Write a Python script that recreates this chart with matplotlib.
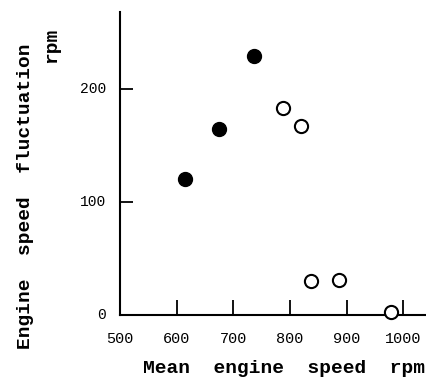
import matplotlib
matplotlib.use('agg')
import matplotlib.pyplot as plt

# values
filled_x = [614, 675, 737]
filled_y = [120, 165, 229]
open_x = [788, 819, 838, 887, 979]
open_y = [183, 167, 30, 31, 3]

x_ticks = [600, 700, 800, 900, 1000]
x_labels = ['500', '600', '700', '800', '900', '1000']
y_ticks = [100, 200]
y_labels = ['0', '100', '200']

mono = 'Liberation Mono'

fig = plt.figure(figsize=(4.27, 3.81), dpi=100)
ax = fig.add_axes([0.281, 0.173, 0.719, 0.795])

ax.scatter(filled_x, filled_y, s=100, c='black', zorder=3)
ax.scatter(open_x, open_y, s=90, facecolors='white', edgecolors='black',
           linewidths=1.5, zorder=3, clip_on=False)

ax.set_xlim(500, 1042)
ax.set_ylim(0, 268)

for s in ['top', 'right']:
    ax.spines[s].set_visible(False)
for s in ['left', 'bottom']:
    ax.spines[s].set_linewidth(1.5)

ax.set_xticks(x_ticks)
ax.set_yticks(y_ticks)
ax.set_xticklabels([])
ax.set_yticklabels([])
ax.tick_params(axis='x', direction='in', length=11, width=1.3)
ax.tick_params(axis='y', direction='in', length=9, width=1.3)

# tick labels drawn by hand so 500 and 0 show without a tick mark
for v, lab in zip([500] + x_ticks, x_labels):
    ax.text(v, -0.055, lab, transform=ax.get_xaxis_transform(), ha='center',
            va='top', fontsize=11, family=mono)
for v, lab in zip([0] + y_ticks, y_labels):
    ax.text(-0.045, v, lab, transform=ax.get_yaxis_transform(), ha='right',
            va='center', fontsize=10.5, family=mono)

fig.text(0.664, 0.034, 'Mean  engine  speed  rpm', ha='center', va='center',
         fontsize=14, family=mono, fontweight='bold')
fig.text(0.059, 0.485, 'Engine  speed  fluctuation', ha='center', va='center',
         rotation=90, fontsize=14, family=mono, fontweight='bold')
fig.text(0.12, 0.882, 'rpm', ha='center', va='center',
         rotation=90, fontsize=14, family=mono, fontweight='bold')

fig.savefig('out.png', dpi=100)
